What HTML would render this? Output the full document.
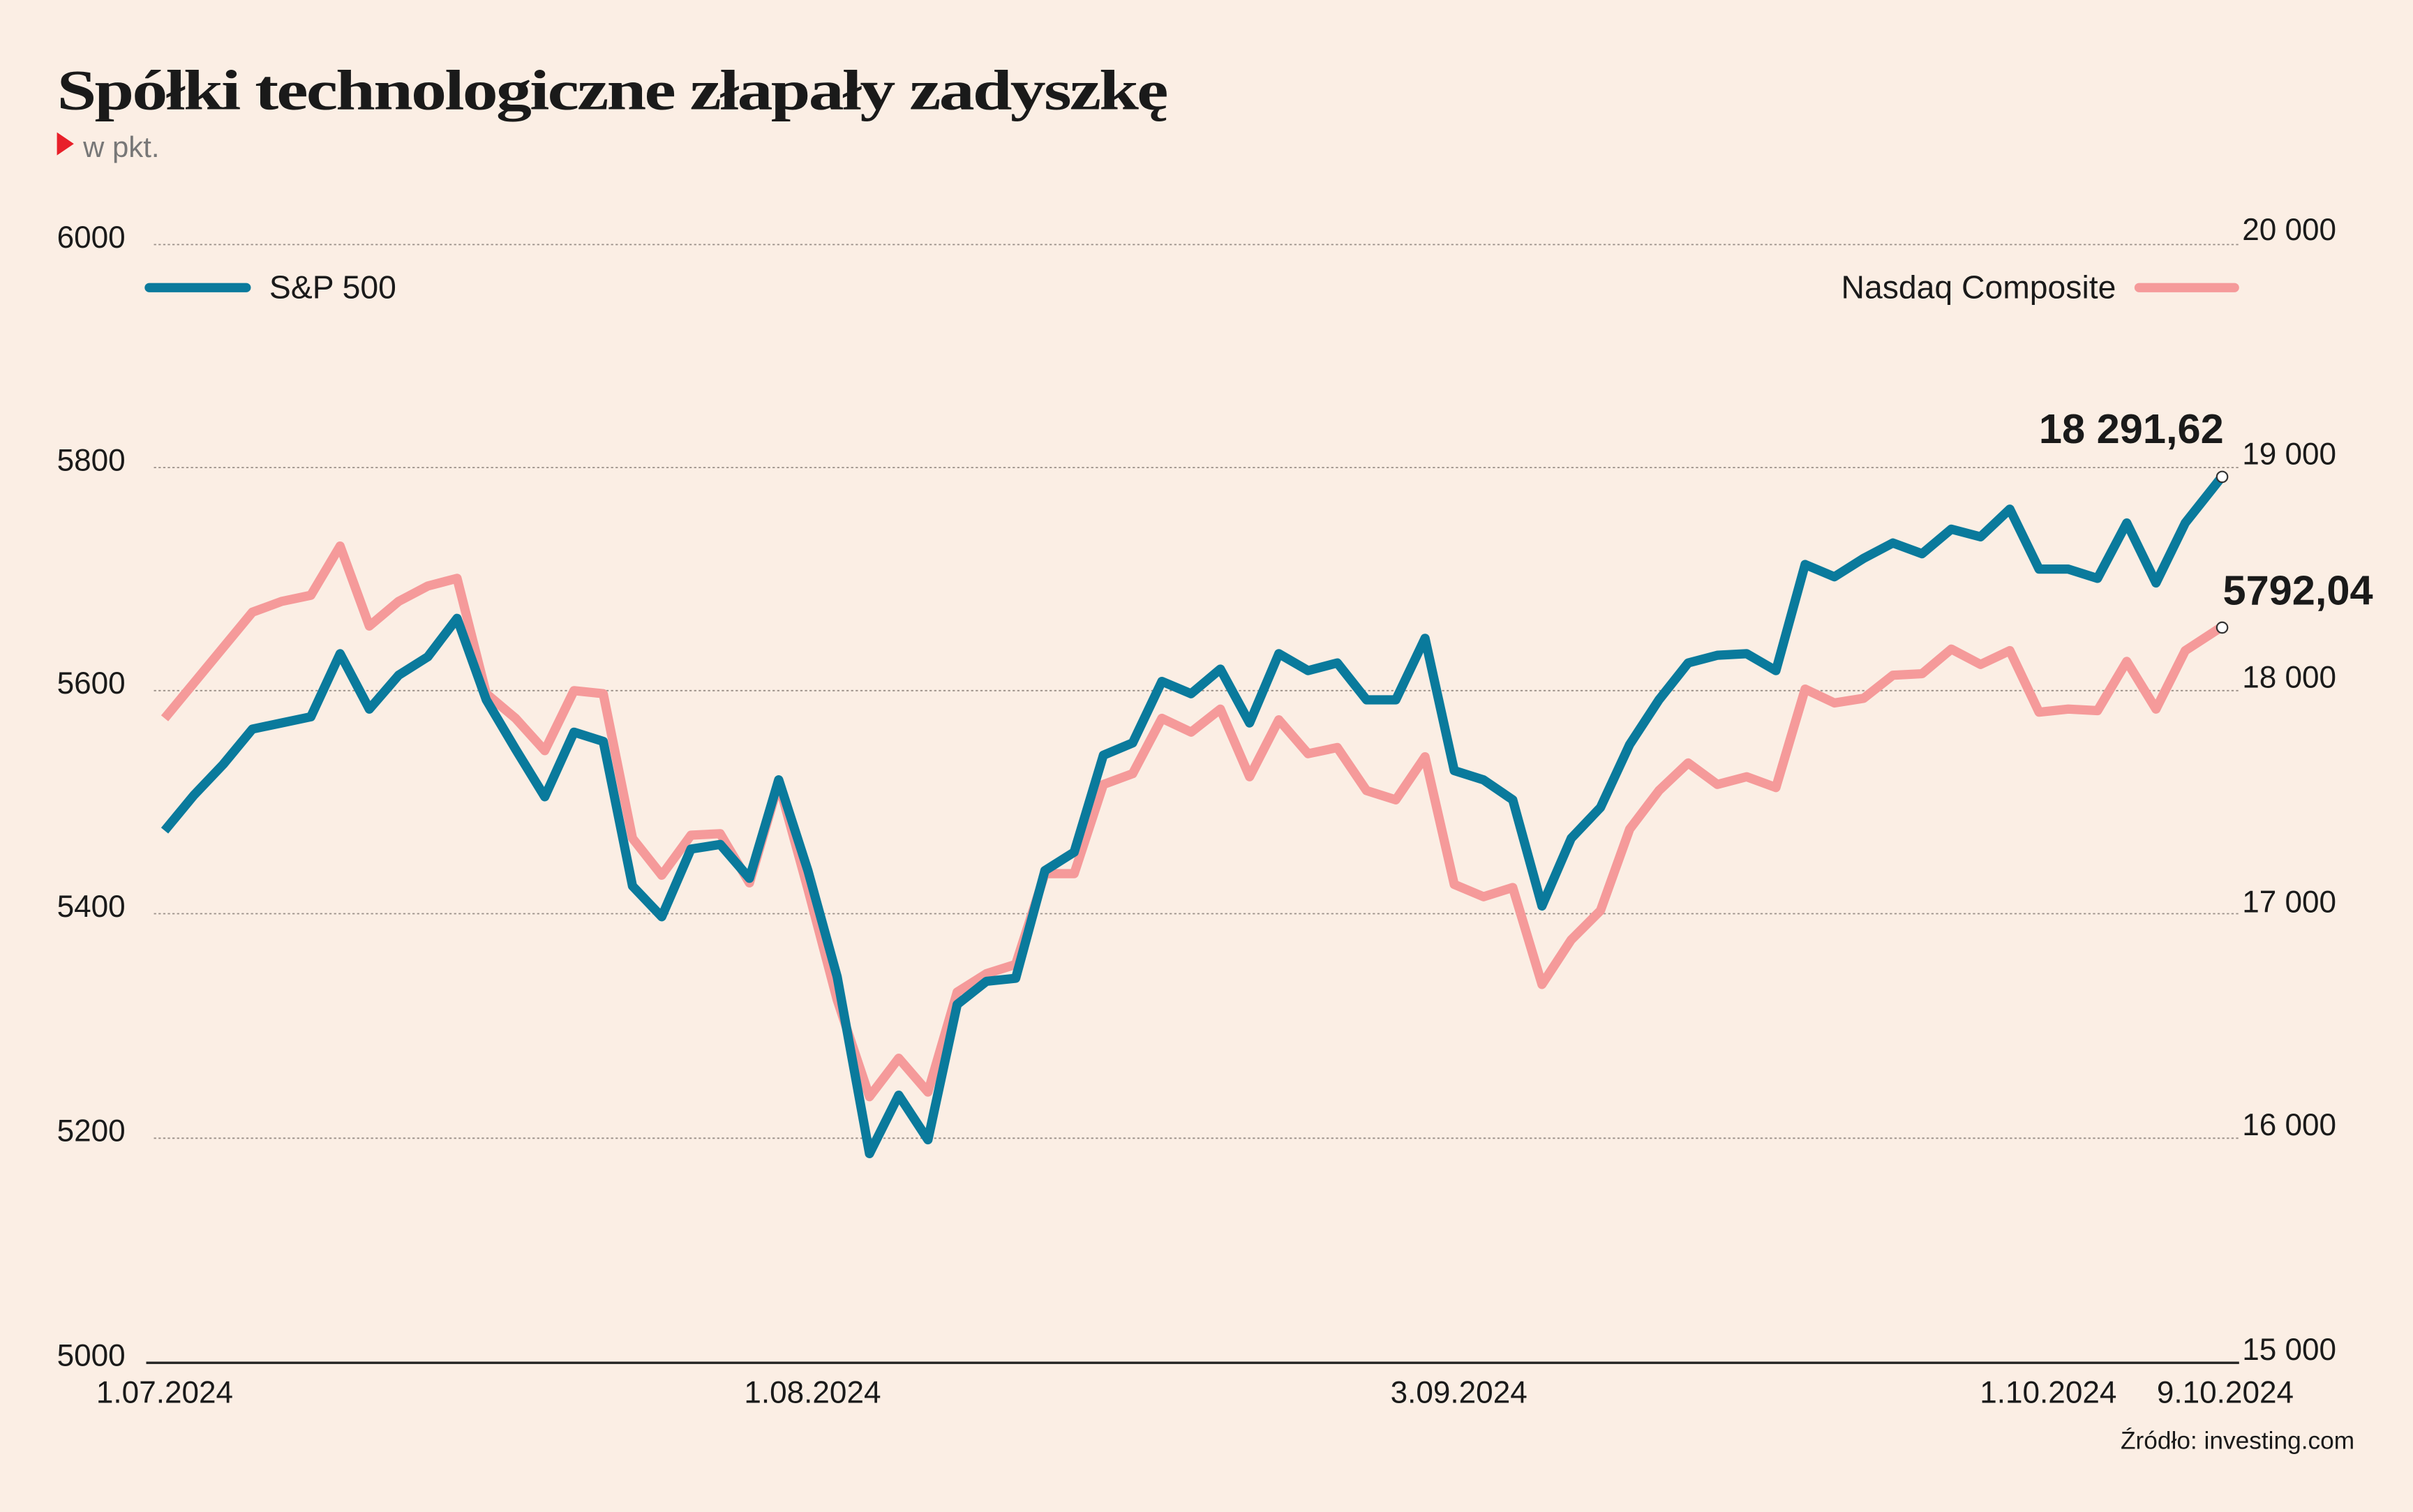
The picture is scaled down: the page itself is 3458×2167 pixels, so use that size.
<!DOCTYPE html>
<html><head><meta charset="utf-8"><style>
html,body{margin:0;padding:0;background:#fbeee4;}
svg{display:block;}
text{font-family:"Liberation Sans",sans-serif;fill:#1a1a1a;}
</style></head><body>
<svg width="3458" height="2167" viewBox="0 0 1568 983" preserveAspectRatio="none" xmlns="http://www.w3.org/2000/svg">
<rect width="1568" height="983" fill="#fbeee4"/>
<text x="37" y="71" style="font-family:'Liberation Serif',serif;font-weight:bold;font-size:37px;letter-spacing:-1px" textLength="721" lengthAdjust="spacingAndGlyphs">Spółki technologiczne złapały zadyszkę</text>
<polygon points="37,86 37,101 48,93.5" fill="#e8202a"/>
<text x="54" y="102" font-size="19" fill="#777" style="fill:#777">w pkt.</text>
<g stroke="#9a8f88" stroke-width="0.8" stroke-dasharray="1.5,1.5">
<line x1="100" y1="159" x2="1455" y2="159"/>
<line x1="100" y1="304" x2="1455" y2="304"/>
<line x1="100" y1="449" x2="1455" y2="449"/>
<line x1="100" y1="594" x2="1455" y2="594"/>
<line x1="100" y1="740" x2="1455" y2="740"/>
</g>
<line x1="95" y1="886" x2="1455" y2="886" stroke="#222" stroke-width="1.5"/>
<g font-size="20">
<text x="37" y="161">6000</text>
<text x="37" y="306">5800</text>
<text x="37" y="451">5600</text>
<text x="37" y="596">5400</text>
<text x="37" y="742">5200</text>
<text x="37" y="888">5000</text>
<text x="1457" y="156">20 000</text>
<text x="1457" y="302">19 000</text>
<text x="1457" y="447">18 000</text>
<text x="1457" y="593">17 000</text>
<text x="1457" y="738">16 000</text>
<text x="1457" y="884">15 000</text>
<text x="107" y="912" text-anchor="middle">1.07.2024</text>
<text x="528" y="912" text-anchor="middle">1.08.2024</text>
<text x="948" y="912" text-anchor="middle">3.09.2024</text>
<text x="1331" y="912" text-anchor="middle">1.10.2024</text>
<text x="1446" y="912" text-anchor="middle">9.10.2024</text>
</g>
<text x="1530" y="942" font-size="16" text-anchor="end">Źródło: investing.com</text>
<line x1="97" y1="187" x2="160" y2="187" stroke="#0a7a9c" stroke-width="6" stroke-linecap="round"/>
<text x="175" y="194" font-size="21">S&amp;P 500</text>
<text x="1375" y="194" font-size="21" text-anchor="end">Nasdaq Composite</text>
<line x1="1390" y1="187" x2="1452" y2="187" stroke="#f59a9a" stroke-width="6" stroke-linecap="round"/>
<polyline fill="none" stroke="#f59a9a" stroke-width="6" stroke-linejoin="round" points="107,467 126,444 145,421 164,398 183,391 202,387 221,355 240,407 259,391 278,381 297,376 316,451 335,467 354,488 373,449 392,451 411,545 430,569 449,543 468,542 487,574 506,509 525,578 544,650 565,713 584,688 603,710 622,645 641,633 660,627 679,568 698,568 717,510 736,503 755,467 774,476 793,461 812,505 831,468 850,490 869,486 888,514 907,520 926,492 945,575 964,583 983,577 1002,640 1021,611 1040,592 1059,539 1078,514 1097,496 1116,510 1135,505 1154,512 1173,448 1192,457 1211,454 1230,439 1249,438 1268,422 1287,432 1306,423 1325,463 1344,461 1363,462 1382,430 1401,461 1420,423 1443,408"/>
<polyline fill="none" stroke="#0a7a9c" stroke-width="6" stroke-linejoin="round" points="107,540 126,517 145,497 164,474 183,470 202,466 221,425 240,461 259,439 278,427 297,402 316,455 335,487 354,518 373,476 392,482 411,576 430,596 449,552 468,549 487,571 506,507 525,566 544,635 565,750 584,712 603,741 622,653 641,638 660,636 679,566 698,554 717,491 736,483 755,443 774,451 793,435 812,470 831,425 850,436 869,431 888,455 907,455 926,415 945,501 964,507 983,520 1002,589 1021,545 1040,525 1059,484 1078,455 1097,431 1116,426 1135,425 1154,436 1173,367 1192,375 1211,363 1230,353 1249,360 1268,344 1287,349 1306,331 1325,370 1344,370 1363,376 1382,340 1401,379 1420,340 1443,311"/>
<circle cx="1444" cy="310" r="3.5" fill="#fff" stroke="#333" stroke-width="1"/>
<circle cx="1444" cy="408" r="3.5" fill="#fff" stroke="#333" stroke-width="1"/>
<text x="1445" y="288" font-size="27" font-weight="bold" text-anchor="end">18 291,62</text>
<text x="1542" y="393" font-size="27" font-weight="bold" text-anchor="end">5792,04</text>
</svg>
</body></html>
